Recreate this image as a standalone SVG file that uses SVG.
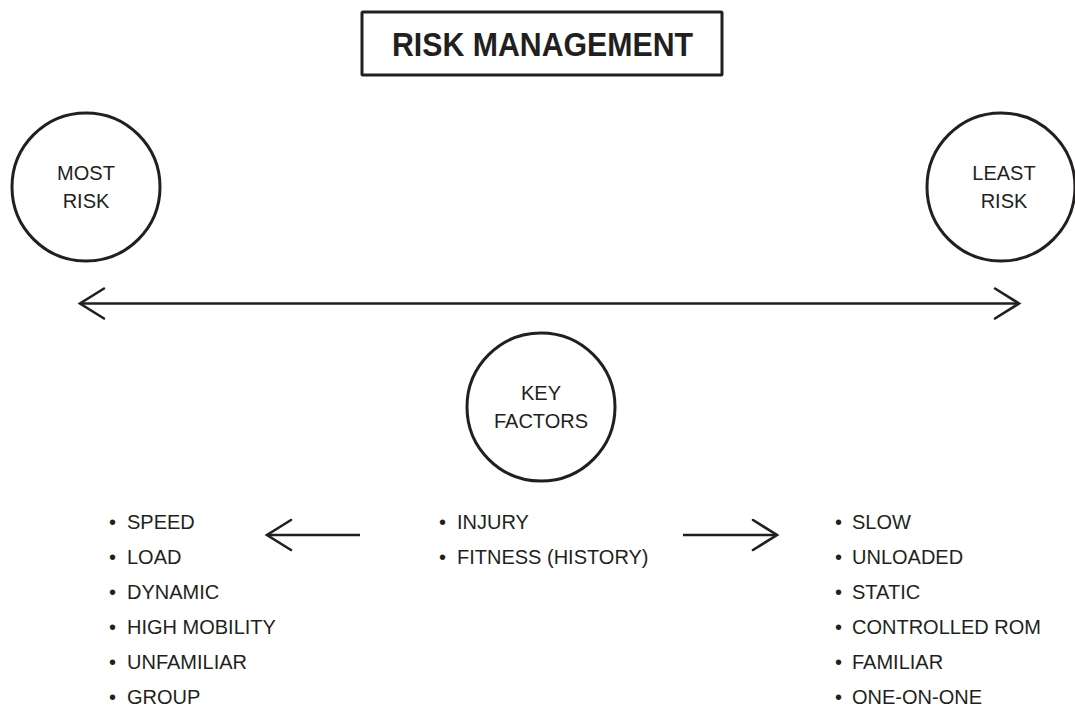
<svg xmlns="http://www.w3.org/2000/svg" width="1075" height="706" viewBox="0 0 1075 706">
<style>
.bg{fill:#ffffff}
.shape{fill:#ffffff;stroke:#231f20;stroke-width:3}
.t{font-family:"Liberation Sans",Arial,sans-serif;font-size:20px;fill:#231f20}
.c{text-anchor:middle}
.title{font-family:"Liberation Sans",Arial,sans-serif;font-size:33px;font-weight:bold;fill:#231f20}
.conn{fill:none;stroke:#231f20;stroke-width:2.6}
</style>
<defs>
<marker id="chev" markerUnits="userSpaceOnUse" viewBox="-28 -18 32 36" markerWidth="32" markerHeight="36" refX="0" refY="0" orient="auto-start-reverse" overflow="visible">
<path d="M -24 -15 L 0 0 L -24 15" fill="none" stroke="#231f20" stroke-width="2.6" stroke-linecap="round" stroke-linejoin="miter"/>
</marker>
</defs>
<rect class="bg" x="0" y="0" width="1075" height="706"/>
<g id="title">
<rect class="shape" x="362" y="12" width="360" height="63" rx="1" stroke-width="2.6"/>
<text class="title" x="392" y="56" textLength="301" lengthAdjust="spacingAndGlyphs">RISK MANAGEMENT</text>
</g>
<g id="most-risk">
<circle class="shape" cx="86" cy="187" r="74"/>
<text class="t c" x="86" y="180">MOST</text>
<text class="t c" x="86" y="208">RISK</text>
</g>
<g id="least-risk">
<circle class="shape" cx="1001" cy="187" r="74"/>
<text class="t c" x="1004" y="180">LEAST</text>
<text class="t c" x="1004" y="208">RISK</text>
</g>
<g id="key-factors">
<circle class="shape" cx="541" cy="407" r="74"/>
<text class="t c" x="541" y="400">KEY</text>
<text class="t c" x="541" y="428">FACTORS</text>
</g>
<g id="connectors">
<line class="conn" x1="80" y1="303.5" x2="1019" y2="303.5" marker-start="url(#chev)" marker-end="url(#chev)"/>
<line class="conn" x1="360" y1="535" x2="267" y2="535" marker-end="url(#chev)"/>
<line class="conn" x1="683" y1="535" x2="777" y2="535" marker-end="url(#chev)"/>
</g>
<g id="most-risk-factors">
<text class="t" y="529"><tspan x="109">•</tspan><tspan x="127">SPEED</tspan></text>
<text class="t" y="564"><tspan x="109">•</tspan><tspan x="127">LOAD</tspan></text>
<text class="t" y="599"><tspan x="109">•</tspan><tspan x="127">DYNAMIC</tspan></text>
<text class="t" y="634"><tspan x="109">•</tspan><tspan x="127">HIGH MOBILITY</tspan></text>
<text class="t" y="669"><tspan x="109">•</tspan><tspan x="127">UNFAMILIAR</tspan></text>
<text class="t" y="704"><tspan x="109">•</tspan><tspan x="127">GROUP</tspan></text>
</g>
<g id="key-factor-list">
<text class="t" y="529"><tspan x="439">•</tspan><tspan x="457">INJURY</tspan></text>
<text class="t" y="564"><tspan x="439">•</tspan><tspan x="457">FITNESS (HISTORY)</tspan></text>
</g>
<g id="least-risk-factors">
<text class="t" y="529"><tspan x="835">•</tspan><tspan x="852">SLOW</tspan></text>
<text class="t" y="564"><tspan x="835">•</tspan><tspan x="852">UNLOADED</tspan></text>
<text class="t" y="599"><tspan x="835">•</tspan><tspan x="852">STATIC</tspan></text>
<text class="t" y="634"><tspan x="835">•</tspan><tspan x="852">CONTROLLED ROM</tspan></text>
<text class="t" y="669"><tspan x="835">•</tspan><tspan x="852">FAMILIAR</tspan></text>
<text class="t" y="704"><tspan x="835">•</tspan><tspan x="852">ONE-ON-ONE</tspan></text>
</g>
</svg>
